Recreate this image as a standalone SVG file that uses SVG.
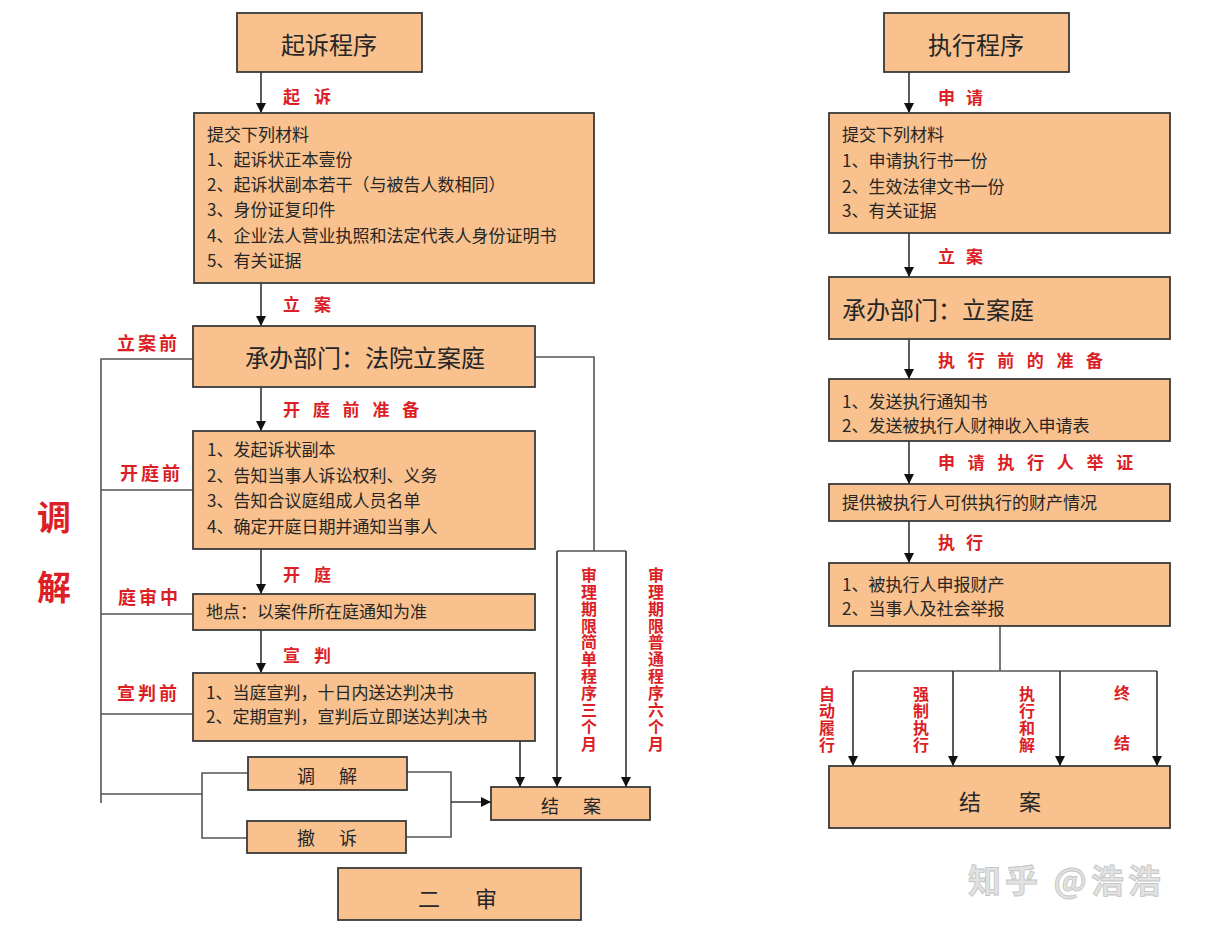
<svg xmlns="http://www.w3.org/2000/svg" width="1224" height="929" viewBox="0 0 1224 929">
<style>
text{font-family:"Noto Sans CJK SC","Noto Sans",sans-serif;dominant-baseline:central;transform:translateY(-1.5px)}
.box{fill:#f8c18e;stroke:#3a3a3a;stroke-width:1.8}
.t{fill:#262626;font-size:17px}
.big{fill:#262626;font-size:24px}
.lbl{fill:#dc1f26;font-weight:700;font-size:17px}
.side{fill:#dc1f26;font-weight:700;font-size:18px;letter-spacing:3px}
.vl{fill:#dc1f26;font-weight:700;font-size:16px;text-anchor:middle}
.ln{stroke:#555;stroke-width:1.6;fill:none}
.ar{stroke:#333;stroke-width:1.6;fill:none;marker-end:url(#ah)}
.wm{font-size:33px;font-weight:700;letter-spacing:4px}
</style>
<defs>
<marker id="ah" markerUnits="userSpaceOnUse" markerWidth="11" markerHeight="10" refX="10" refY="5" orient="auto">
<path d="M0,0 L10,5 L0,10 z" fill="#111"/>
</marker>
</defs>
<rect width="1224" height="929" fill="#fff"/>

<g id="connectors">
<line class="ar" x1="261" y1="72" x2="261" y2="113"/>
<line class="ar" x1="261" y1="283" x2="261" y2="326"/>
<line class="ar" x1="261" y1="387" x2="261" y2="431"/>
<line class="ar" x1="261" y1="549" x2="261" y2="594"/>
<line class="ar" x1="261" y1="630" x2="261" y2="673"/>
<polyline class="ln" points="193,359 101,359 101,803"/>
<line class="ln" x1="101" y1="490" x2="193" y2="490"/>
<line class="ln" x1="101" y1="614" x2="193" y2="614"/>
<line class="ln" x1="101" y1="714" x2="193" y2="714"/>
<line class="ln" x1="101" y1="794" x2="202" y2="794"/>
<polyline class="ln" points="248,773 202,773 202,838 247,838"/>
<polyline class="ln" points="407,772 451,772 451,837 405,837"/>
<line class="ar" x1="451" y1="802" x2="491" y2="802"/>
<polyline class="ln" points="535,357 594,357 594,551"/>
<line class="ln" x1="557" y1="551" x2="626" y2="551"/>
<line class="ar" x1="557" y1="551" x2="557" y2="787"/>
<line class="ar" x1="626" y1="551" x2="626" y2="787"/>
<line class="ar" x1="520" y1="741" x2="520" y2="787"/>
<line class="ar" x1="909" y1="72" x2="909" y2="113"/>
<line class="ar" x1="909" y1="233" x2="909" y2="277"/>
<line class="ar" x1="909" y1="339" x2="909" y2="379"/>
<line class="ar" x1="909" y1="441" x2="909" y2="484"/>
<line class="ar" x1="909" y1="521" x2="909" y2="563"/>
<line class="ln" x1="1000" y1="626" x2="1000" y2="671"/>
<line class="ln" x1="853" y1="671" x2="1157" y2="671"/>
<line class="ar" x1="853" y1="671" x2="853" y2="766"/>
<line class="ar" x1="953" y1="671" x2="953" y2="766"/>
<line class="ar" x1="1060" y1="671" x2="1060" y2="766"/>
<line class="ar" x1="1157" y1="671" x2="1157" y2="766"/>
</g>

<g id="edge-labels">
<text class="lbl" x="283" y="97" style="letter-spacing:14px">起诉</text>
<text class="lbl" x="283" y="305" style="letter-spacing:14px">立案</text>
<text class="lbl" x="283" y="410" style="letter-spacing:12.8px">开庭前准备</text>
<text class="lbl" x="283" y="575" style="letter-spacing:14px">开庭</text>
<text class="lbl" x="283" y="656" style="letter-spacing:14px">宣判</text>
<text class="side" x="117" y="343">立案前</text>
<text class="side" x="120" y="473">开庭前</text>
<text class="side" x="118" y="597">庭审中</text>
<text class="side" x="117" y="693">宣判前</text>
<text x="54" y="517" style="fill:#dc1f26;font-weight:700;font-size:34px;text-anchor:middle">调</text>
<text x="54" y="587" style="fill:#dc1f26;font-weight:700;font-size:34px;text-anchor:middle">解</text>
<text class="vl" x="589 589 589 589 589 589 589 589 589 589 589" y="575 592 609 626 642.5 659.5 676 693 710 727 744">审理期限简单程序三个月</text>
<text class="vl" x="656 656 656 656 656 656 656 656 656 656 656" y="575 592 609 626 642.5 659.5 676 693 710 727 744">审理期限普通程序六个月</text>
<text class="lbl" x="938" y="98" style="letter-spacing:11px">申请</text>
<text class="lbl" x="938" y="257" style="letter-spacing:11px">立案</text>
<text class="lbl" x="938" y="361" style="letter-spacing:12.6px">执行前的准备</text>
<text class="lbl" x="938" y="463" style="letter-spacing:12.7px">申请执行人举证</text>
<text class="lbl" x="938" y="543" style="letter-spacing:11px">执行</text>
<text class="vl" x="827 827 827 827" y="694 711 728 745">自动履行</text>
<text class="vl" x="921 921 921 921" y="694 711 728 745">强制执行</text>
<text class="vl" x="1027 1027 1027 1027" y="694 711 728 745">执行和解</text>
<text class="vl" x="1122 1122" y="693 743">终结</text>
</g>

<g id="n-qisu-title">
<rect class="box" x="237" y="13" width="185" height="59"/>
<text class="big" x="329" y="45" text-anchor="middle">起诉程序</text>
</g>
<g id="n-qisu-materials">
<rect class="box" x="194" y="113" width="400" height="170"/>
<text class="t" x="207" y="135">提交下列材料</text>
<text class="t" x="207" y="160">1、起诉状正本壹份</text>
<text class="t" x="207" y="185">2、起诉状副本若干（与被告人数相同）</text>
<text class="t" x="207" y="210">3、身份证复印件</text>
<text class="t" x="207" y="236">4、企业法人营业执照和法定代表人身份证明书</text>
<text class="t" x="207" y="261">5、有关证据</text>
</g>
<g id="n-lian-ting">
<rect class="box" x="193" y="326" width="342" height="61"/>
<text class="big" x="365" y="358" text-anchor="middle">承办部门：法院立案庭</text>
</g>
<g id="n-kaiting-prep">
<rect class="box" x="193" y="431" width="342" height="118"/>
<text class="t" x="207" y="450">1、发起诉状副本</text>
<text class="t" x="207" y="476">2、告知当事人诉讼权利、义务</text>
<text class="t" x="207" y="501">3、告知合议庭组成人员名单</text>
<text class="t" x="207" y="527">4、确定开庭日期并通知当事人</text>
</g>
<g id="n-didian">
<rect class="box" x="193" y="594" width="342" height="36"/>
<text class="t" x="206" y="612">地点：以案件所在庭通知为准</text>
</g>
<g id="n-xuanpan">
<rect class="box" x="193" y="673" width="342" height="68"/>
<text class="t" x="206" y="693">1、当庭宣判，十日内送达判决书</text>
<text class="t" x="206" y="717">2、定期宣判，宣判后立即送达判决书</text>
</g>
<g id="n-tiaojie">
<rect class="box" x="248" y="757" width="159" height="33"/>
<text class="t" x="297" y="776" style="font-size:18px;letter-spacing:24px">调解</text>
</g>
<g id="n-chesu">
<rect class="box" x="247" y="821" width="159" height="32"/>
<text class="t" x="297" y="838" style="font-size:18px;letter-spacing:24px">撤诉</text>
</g>
<g id="n-jiean-left">
<rect class="box" x="491" y="787" width="159" height="33"/>
<text class="t" x="541" y="806" style="font-size:18px;letter-spacing:24px">结案</text>
</g>
<g id="n-ershen">
<rect class="box" x="338" y="868" width="243" height="52"/>
<text class="t" x="418" y="898" style="font-size:22px;letter-spacing:35px">二审</text>
</g>

<g id="n-zhixing-title">
<rect class="box" x="884" y="13" width="185" height="59"/>
<text class="big" x="976" y="45" text-anchor="middle">执行程序</text>
</g>
<g id="n-zhixing-materials">
<rect class="box" x="829" y="113" width="341" height="120"/>
<text class="t" x="842" y="135">提交下列材料</text>
<text class="t" x="842" y="161">1、申请执行书一份</text>
<text class="t" x="842" y="187">2、生效法律文书一份</text>
<text class="t" x="842" y="211">3、有关证据</text>
</g>
<g id="n-zx-lianting">
<rect class="box" x="829" y="277" width="341" height="62"/>
<text class="big" x="842" y="310">承办部门：立案庭</text>
</g>
<g id="n-zx-prep">
<rect class="box" x="829" y="379" width="341" height="62"/>
<text class="t" x="842" y="402">1、发送执行通知书</text>
<text class="t" x="842" y="426">2、发送被执行人财神收入申请表</text>
</g>
<g id="n-zx-evidence">
<rect class="box" x="829" y="484" width="341" height="37"/>
<text class="t" x="842" y="503">提供被执行人可供执行的财产情况</text>
</g>
<g id="n-zx-exec">
<rect class="box" x="829" y="563" width="341" height="63"/>
<text class="t" x="842" y="585">1、被执行人申报财产</text>
<text class="t" x="842" y="609">2、当事人及社会举报</text>
</g>
<g id="n-jiean-right">
<rect class="box" x="829" y="766" width="341" height="62"/>
<text class="t" x="959" y="801" style="font-size:22px;letter-spacing:38px">结案</text>
</g>

<g id="watermark">
<text class="wm" x="968" y="880" style="fill:#e2e2e2;stroke:#c4c4c4;stroke-width:0.8">知乎 @浩浩</text>
</g>
</svg>
